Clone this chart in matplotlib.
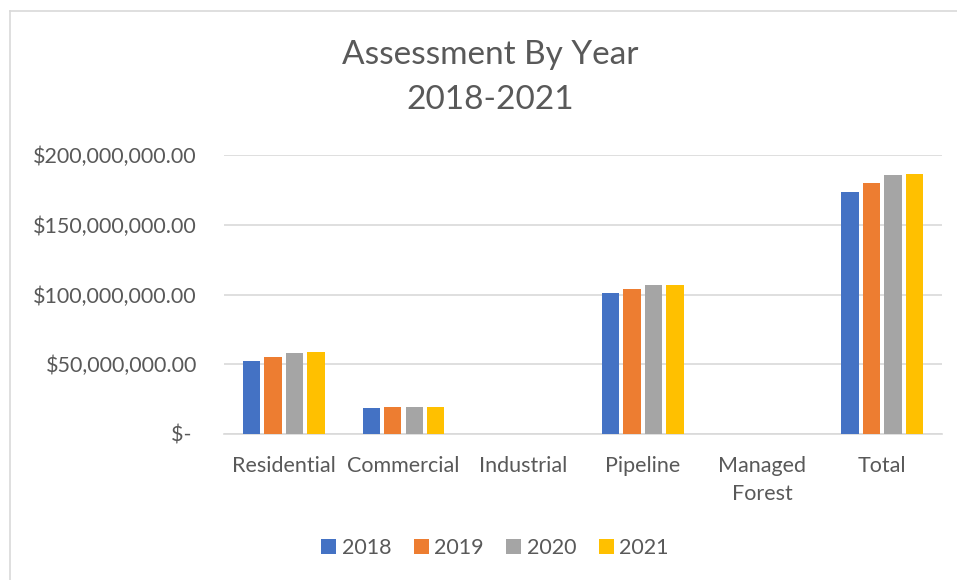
import numpy as np
import matplotlib.pyplot as plt
from matplotlib.lines import Line2D

# ── data ──
categories = ["Residential", "Commercial", "Industrial", "Pipeline", "Managed\nForest", "Total"]
years = ["2018", "2019", "2020", "2021"]
v2018 = [52.3e6, 18.6e6, 0, 101.0e6, 0, 173.7e6]
v2019 = [55.2e6, 19.4e6, 0, 104.0e6, 0, 179.7e6]
v2020 = [58.1e6, 19.4e6, 0, 106.8e6, 0, 185.7e6]
v2021 = [58.8e6, 19.4e6, 0, 106.8e6, 0, 186.4e6]
series = [v2018, v2019, v2020, v2021]
colors = ["#4472C4", "#ED7D31", "#A5A5A5", "#FFC000"]

ytick_vals = [0, 50e6, 100e6, 150e6, 200e6]
ytick_labels = ["$- ", "$50,000,000.00", "$100,000,000.00", "$150,000,000.00", "$200,000,000.00"]

txt = "#595959"
plt.rcParams['font.family'] = ['Lato', 'DejaVu Sans']

fig = plt.figure(figsize=(9.57, 5.8), dpi=100)
ax = fig.add_axes([224 / 957, 1 - 434 / 580, (942 - 224) / 957, (434 - 155) / 580])

# chart frame
fig.add_artist(Line2D([10 / 957, 10 / 957], [0, 1 - 10.5 / 580], transform=fig.transFigure,
                      color="#D9D9D9", lw=1.2))
fig.add_artist(Line2D([10 / 957, 1], [1 - 10.5 / 580, 1 - 10.5 / 580], transform=fig.transFigure,
                      color="#D9D9D9", lw=1.2))

x = np.arange(len(categories))
step = 0.18
width = 0.145
for i, (vals, c, yr) in enumerate(zip(series, colors, years)):
    ax.bar(x + (i - 1.5) * step, vals, width, color=c, label=yr, zorder=3)

ax.set_xlim(-0.5, len(categories) - 0.5)
ax.set_ylim(0, 200e6)
ax.set_yticks(ytick_vals)
ax.set_yticklabels(ytick_labels)
ax.set_xticks(x)
ax.set_xticklabels(categories, linespacing=1.55, va="top")
ax.tick_params(axis="both", length=0, colors=txt, labelsize=15.5)
ax.tick_params(axis="y", pad=19.5)
ax.tick_params(axis="x", pad=15.5)

ax.grid(axis="y", color="#D9D9D9", lw=1.2, zorder=0)
for s in ["top", "right", "left"]:
    ax.spines[s].set_visible(False)
ax.spines["bottom"].set_color("#D9D9D9")
ax.spines["bottom"].set_linewidth(1.2)

fig.text(490 / 957, 1 - 55 / 580, "Assessment By Year", ha="center", va="center", fontsize=24, color=txt)
fig.text(490 / 957, 1 - 100 / 580, "2018-2021", ha="center", va="center", fontsize=24, color=txt)

fig.legend(loc="center", bbox_to_anchor=(495 / 957, 1 - 548 / 580), ncol=4, frameon=False,
           fontsize=15.5, labelcolor=txt, handlelength=0.7, handleheight=0.7,
           handletextpad=0.25, columnspacing=1.05)

fig.savefig("out.png", dpi=100, facecolor="white")
